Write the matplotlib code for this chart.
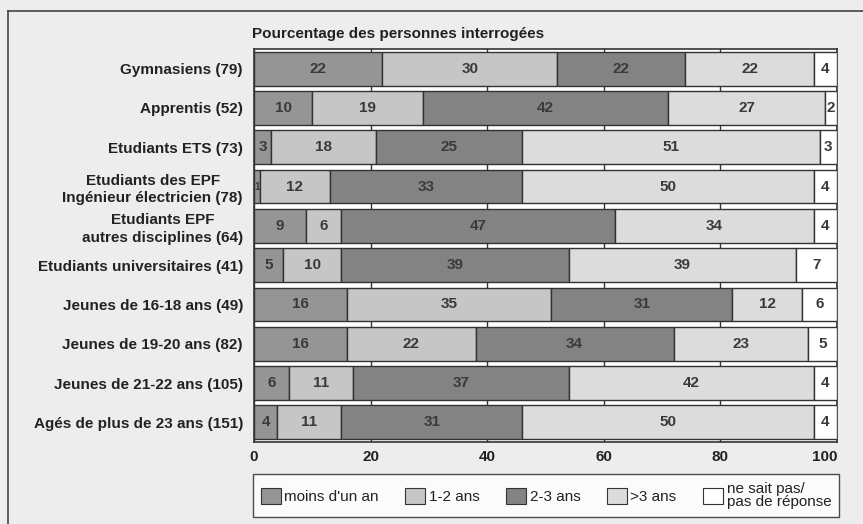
import numpy as np
import matplotlib.pyplot as plt
from matplotlib.lines import Line2D
from matplotlib.patches import Patch

plt.rcParams['font.family'] = ['Liberation Sans', 'DejaVu Sans']

categories = ["Gymnasiens (79)", "Apprentis (52)", "Etudiants ETS (73)",
              "Etudiants des EPF\nIngénieur électricien (78)",
              "Etudiants EPF\nautres disciplines (64)",
              "Etudiants universitaires (41)", "Jeunes de 16-18 ans (49)",
              "Jeunes de 19-20 ans (82)", "Jeunes de 21-22 ans (105)",
              "Agés de plus de 23 ans (151)"]
series = ["moins d'un an", "1-2 ans", "2-3 ans", ">3 ans", "ne sait pas/\npas de réponse"]
moins_un_an = [22, 10, 3, 1, 9, 5, 16, 16, 6, 4]
un_deux = [30, 19, 18, 12, 6, 10, 35, 22, 11, 11]
deux_trois = [22, 42, 25, 33, 47, 39, 31, 34, 37, 31]
plus_trois = [22, 27, 51, 50, 34, 39, 12, 23, 42, 50]
ne_sait_pas = [4, 2, 3, 4, 4, 7, 6, 5, 4, 4]
xticks = [0, 20, 40, 60, 80, 100]

colors = ['#959595', '#c6c6c6', '#838383', '#dcdcdc', '#ffffff']
data = [moins_un_an, un_deux, deux_trois, plus_trois, ne_sait_pas]

fig = plt.figure(figsize=(8.63, 5.24), dpi=100, facecolor='#ededed')
ax = fig.add_axes([254/863, 1-442/524, (837-254)/863, (442-49)/524])
ax.set_facecolor('white')

y = np.arange(len(categories))
left = np.zeros(len(categories))
for vals, c in zip(data, colors):
    vals = np.array(vals)
    bars = ax.barh(y, vals, left=left, height=0.86, color=c,
                   edgecolor='#333333', linewidth=1, zorder=3)
    for b, v in zip(bars, vals):
        fs = 11 if v > 1 else 7
        ax.text(b.get_x() + b.get_width()/2, b.get_y() + b.get_height()/2,
                str(v), ha='center', va='center', fontsize=fs,
                fontweight='bold', color='#3a3a3a', zorder=4)
    left += vals

ax.set_ylim(len(categories) - 0.5, -0.5)
ax.set_xlim(0, 100)
ax.set_yticks(y)
ax.set_yticklabels(categories, fontsize=11, fontweight='bold',
                   color='#222222', multialignment='center', linespacing=1.3)
ax.set_xticks(xticks)
ax.set_xticklabels([str(t) for t in xticks], fontsize=11,
                   fontweight='bold', color='#222222')
ax.get_xticklabels()[-1].set_horizontalalignment('right')
ax.tick_params(length=0, axis='both')
ax.tick_params(axis='y', pad=8)
ax.tick_params(axis='x', pad=6)
ax.grid(axis='x', color='#333333', linewidth=1, zorder=0)
for s in ax.spines.values():
    s.set_color('#333333')
    s.set_linewidth(1.2)

fig.text(252/863, 1-34/524, "Pourcentage des personnes interrogées",
         fontsize=11, fontweight='bold', color='#222222', va='center')

handles = [Patch(facecolor=c, edgecolor='#333333', linewidth=0.8) for c in colors]
leg = fig.legend(handles, series, loc='lower left', ncol=5, mode='expand',
                 bbox_to_anchor=(253/863, 1-517/524, (839-253)/863, 42/524),
                 fontsize=11, frameon=True, fancybox=False, edgecolor='#222222',
                 handlelength=1.3, handleheight=1.3, handletextpad=0.25,
                 columnspacing=1.2, borderpad=0.5, borderaxespad=0)
leg.get_frame().set_linewidth(1)
for t in leg.get_texts():
    t.set_color('#222222')
    t.set_linespacing(0.95)

# scanned page frame
fig.add_artist(Line2D([8/863, 1], [1-11/524, 1-11/524], color='#444444', lw=1.2))
fig.add_artist(Line2D([8/863, 8/863], [0, 1-11/524], color='#444444', lw=1.2))

fig.savefig('out.png', dpi=100, facecolor=fig.get_facecolor())
